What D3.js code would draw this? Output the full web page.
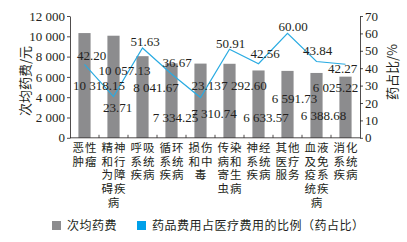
<!DOCTYPE html>
<html>
<head>
<meta charset="utf-8">
<script src="https://cdn.jsdelivr.net/npm/d3@7/dist/d3.min.js"></script>
<style>
  html, body { margin: 0; padding: 0; background: #fff; }
  svg { display: block; }
</style>
</head>
<body>
<div id="chart"></div>
<script>
// data
const categories = ["恶性肿瘤", "精神和行为障碍疾病", "呼吸系统疾病", "循环系统疾病", "损伤和中毒",
  "传染病和寄生虫病", "神经系统疾病", "其他医疗服务", "血液及免疫系统疾病", "消化系统疾病"]
const avgDrugCost = [10318.15, 10057.13, 8041.67, 7334.25, 7310.74, 7292.60, 6633.57, 6591.73, 6388.68, 6025.22]
const drugRatio = [42.20, 23.71, 51.63, 36.67, 23.13, 50.91, 42.56, 60.00, 43.84, 42.27]
const leftTicks = [0, 2000, 4000, 6000, 8000, 10000, 12000]
const rightTicks = [0, 10, 20, 30, 40, 50, 60, 70]
const seriesNames = ["次均药费", "药品费用占医疗费用的比例（药占比）"]

// label nudges (px) as they sit in the original figure
const costLabelPos = [[14.5, 85], [11, 70], [13.5, 87], [4, 117], [13.5, 113], [14.5, 85], [7.5, 117], [7, 98], [7, 115], [-10, 87]]
const ratioLabelNudge = [[7, -9], [4, 11], [2.5, -7], [5.5, -12], [5.5, -12.5], [1, -6], [6.5, -10], [5.5, -6.5], [1, -11.5], [-3, 4]]

const W = 407, H = 242
const mLeft = 70, mRight = 360, mTop = 16, mBottom = 137.8
const serif = "'Liberation Serif', 'Times New Roman', serif"
const cjk = "'Noto Sans CJK SC', sans-serif"
const ink = "#231f20"
const barColor = "#8c8c8e"
const lineColor = "#29abe2"

const svg = d3.select("#chart").append("svg")
  .attr("width", W).attr("height", H)
  .attr("viewBox", `0 0 ${W} ${H}`)

const x = d3.scaleBand().domain(categories).range([mLeft, mRight]).paddingInner(0.58).paddingOuter(0.29)
const yL = d3.scaleLinear().domain([0, 12000]).range([mBottom, mTop])
const yR = d3.scaleLinear().domain([0, 70]).range([mBottom, mTop])
const loc = d3.formatLocale({ decimal: ".", thousands: " ", grouping: [3], currency: ["", ""] })
const fmtTick = loc.format(",")
const fmtCost = loc.format(",.2f")
const fmtPct = d3.format(".2f")

// bars
svg.append("g").selectAll("rect")
  .data(avgDrugCost).join("rect")
  .attr("x", (d, i) => x(categories[i]))
  .attr("width", x.bandwidth())
  .attr("y", d => yL(d))
  .attr("height", d => mBottom - yL(d))
  .attr("fill", barColor)

// axes
const axL = svg.append("g").attr("transform", `translate(${mLeft},0)`)
  .call(d3.axisLeft(yL).tickValues(leftTicks).tickFormat(fmtTick).tickSize(3).tickSizeOuter(0).tickPadding(2))
const axR = svg.append("g").attr("transform", `translate(${mRight},0)`)
  .call(d3.axisRight(yR).tickValues(rightTicks).tickSize(3).tickSizeOuter(0).tickPadding(2))
;[axL, axR].forEach(a => {
  a.selectAll("path, line").attr("stroke", ink).attr("stroke-width", 0.8)
  a.selectAll("text").attr("font-family", serif).attr("font-size", 13).attr("fill", ink)
})

// x axis baseline with small ticks between categories
svg.append("line").attr("x1", mLeft).attr("x2", mRight).attr("y1", mBottom).attr("y2", mBottom)
  .attr("stroke", ink).attr("stroke-width", 0.8)
svg.append("g").selectAll("line")
  .data(d3.range(1, categories.length)).join("line")
  .attr("x1", i => mLeft + i * x.step()).attr("x2", i => mLeft + i * x.step())
  .attr("y1", mBottom).attr("y2", mBottom - 3)
  .attr("stroke", ink).attr("stroke-width", 0.8)

// line
const line = d3.line().x((d, i) => x(categories[i]) + x.bandwidth() / 2).y(d => yR(d))
svg.append("path").datum(drugRatio)
  .attr("d", line).attr("fill", "none")
  .attr("stroke", lineColor).attr("stroke-width", 1.2)

// value labels
svg.append("g").selectAll("text")
  .data(avgDrugCost).join("text")
  .attr("x", (d, i) => x(categories[i]) + x.bandwidth() / 2 + costLabelPos[i][0])
  .attr("y", (d, i) => costLabelPos[i][1])
  .attr("dy", "0.35em")
  .attr("text-anchor", "middle")
  .attr("font-family", serif).attr("font-size", 13).attr("fill", ink)
  .text(d => fmtCost(d))

svg.append("g").selectAll("text")
  .data(drugRatio).join("text")
  .attr("x", (d, i) => x(categories[i]) + x.bandwidth() / 2 + ratioLabelNudge[i][0])
  .attr("y", (d, i) => yR(d) + ratioLabelNudge[i][1])
  .attr("dy", "0.35em")
  .attr("text-anchor", "middle")
  .attr("font-family", serif).attr("font-size", 13).attr("fill", ink)
  .text(d => fmtPct(d))

// category labels, two characters per row
const catG = svg.append("g")
categories.forEach((c, i) => {
  const rows = c.match(/.{1,2}/g)
  const t = catG.append("text")
    .attr("text-anchor", "middle")
    .attr("font-family", cjk).attr("font-size", 11.5).attr("fill", ink)
    .attr("letter-spacing", 0.8)
  rows.forEach((r, j) => {
    t.append("tspan")
      .attr("x", x(c) + x.bandwidth() / 2 + 0.4)
      .attr("y", 148 + j * 13.7)
      .attr("dy", "0.35em")
      .text(r)
  })
})

// axis titles
svg.append("text")
  .attr("transform", `translate(25,81) rotate(-90)`)
  .attr("text-anchor", "middle").attr("dy", "0.35em")
  .attr("font-family", cjk).attr("font-size", 13).attr("fill", ink)
  .text("次均药费/元")
svg.append("text")
  .attr("transform", `translate(392,72) rotate(-90)`)
  .attr("text-anchor", "middle").attr("dy", "0.35em")
  .attr("font-family", cjk).attr("font-size", 13).attr("fill", ink)
  .text("药占比/%")

// legend
const legend = [{ name: seriesNames[0], color: barColor, x: 52 }, { name: seriesNames[1], color: "#00a0e9", x: 137 }]
const lg = svg.append("g").selectAll("g").data(legend).join("g")
  .attr("transform", d => `translate(${d.x},221)`)
lg.append("rect").attr("width", 9).attr("height", 9).attr("fill", d => d.color)
lg.append("text")
  .attr("x", 15).attr("y", 4.5).attr("dy", "0.35em")
  .attr("font-family", cjk).attr("font-size", 12).attr("fill", ink)
  .attr("letter-spacing", 0.5)
  .text(d => d.name)
</script>
</body>
</html>
